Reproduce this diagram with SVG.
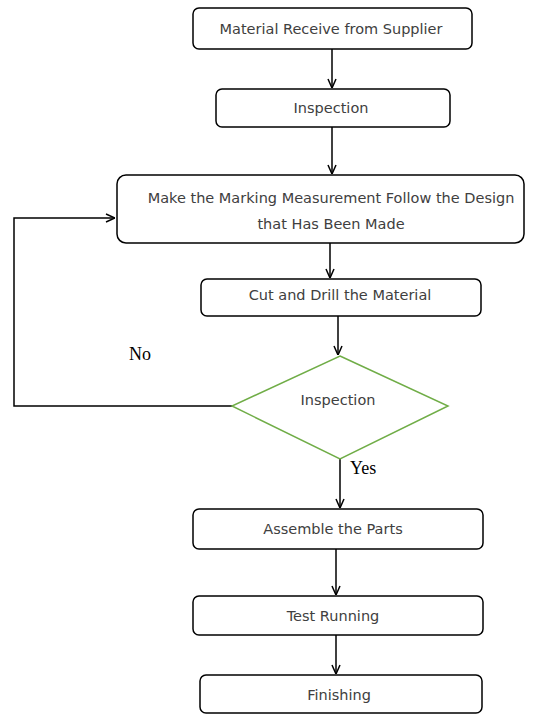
<svg xmlns="http://www.w3.org/2000/svg" width="539" height="715" viewBox="0 0 539 715">
<style>
.box{fill:#fff;stroke:#000;stroke-width:1.5}
.t{font-family:"DejaVu Sans","Liberation Sans",Arial,sans-serif;font-size:14.5px;fill:#404040;text-anchor:middle;dominant-baseline:central}
.s{font-family:"Liberation Serif","Times New Roman",serif;font-size:18px;fill:#000}
.c{fill:none;stroke:#000;stroke-width:1.5}
</style>
<defs>
<marker id="ah" viewBox="0 0 10 10" refX="10" refY="5" markerWidth="10" markerHeight="10" markerUnits="userSpaceOnUse" orient="auto">
<path d="M1,1 L10,5 L1,9" fill="none" stroke="#000" stroke-width="1.5"/>
</marker>
</defs>
<rect width="539" height="715" fill="#fff"/>
<g id="connectors">
<line class="c" x1="332" y1="49" x2="332" y2="88" marker-end="url(#ah)"/>
<line class="c" x1="332" y1="127" x2="332" y2="174" marker-end="url(#ah)"/>
<line class="c" x1="330" y1="243" x2="330" y2="278" marker-end="url(#ah)"/>
<line class="c" x1="338" y1="316" x2="338" y2="355" marker-end="url(#ah)"/>
<polyline class="c" points="232,406 14,406 14,218 115,218" marker-end="url(#ah)"/>
<line class="c" x1="340" y1="459" x2="340" y2="508" marker-end="url(#ah)"/>
<line class="c" x1="336" y1="549" x2="336" y2="595" marker-end="url(#ah)"/>
<line class="c" x1="336" y1="635" x2="336" y2="674" marker-end="url(#ah)"/>
<text class="s" x="129" y="360">No</text>
<text class="s" x="350" y="474">Yes</text>
</g>
<g id="n1"><rect class="box" x="193" y="8" width="279" height="41" rx="6"/><text class="t" x="331" y="29">Material Receive from Supplier</text></g>
<g id="n2"><rect class="box" x="216" y="89" width="234" height="38" rx="6"/><text class="t" x="331" y="108">Inspection</text></g>
<g id="n3"><rect class="box" x="117" y="175" width="407" height="68" rx="9"/><text class="t" x="331" y="198">Make the Marking Measurement Follow the Design</text><text class="t" x="331" y="224">that Has Been Made</text></g>
<g id="n4"><rect class="box" x="201" y="279" width="280" height="37" rx="6"/><text class="t" x="340" y="295">Cut and Drill the Material</text></g>
<g id="n5"><polygon points="340,356 448,406 340,459 232,406" fill="#fff" stroke="#70AD47" stroke-width="1.5"/><text class="t" x="338" y="400">Inspection</text></g>
<g id="n6"><rect class="box" x="193" y="509" width="290" height="40" rx="6"/><text class="t" x="333" y="529">Assemble the Parts</text></g>
<g id="n7"><rect class="box" x="193" y="596" width="290" height="39" rx="6"/><text class="t" x="333" y="616">Test Running</text></g>
<g id="n8"><rect class="box" x="200" y="675" width="282" height="38" rx="6"/><text class="t" x="339" y="695">Finishing</text></g>
</svg>
